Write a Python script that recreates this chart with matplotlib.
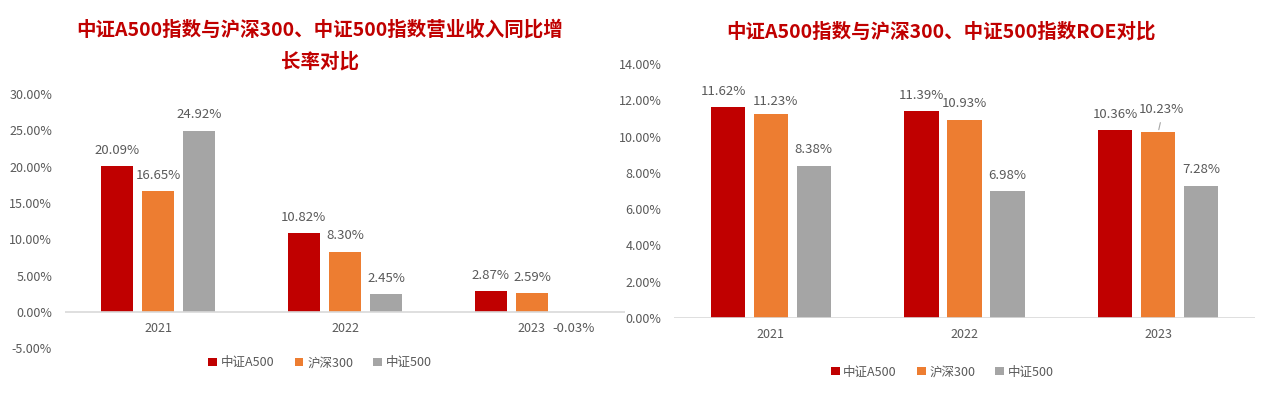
import numpy as np
import matplotlib
matplotlib.use('Agg')
import matplotlib.pyplot as plt

plt.rcParams['font.family'] = ['Noto Sans CJK SC', 'DejaVu Sans']

# Data
years = ['2021', '2022', '2023']
series = ['中证A500', '沪深300', '中证500']
colors = ['#C00000', '#ED7D31', '#A5A5A5']

revenue_a500 = [20.09, 10.82, 2.87]
revenue_hs300 = [16.65, 8.30, 2.59]
revenue_zz500 = [24.92, 2.45, -0.03]

roe_a500 = [11.62, 11.39, 10.36]
roe_hs300 = [11.23, 10.93, 10.23]
roe_zz500 = [8.38, 6.98, 7.28]

title_left = '中证A500指数与沪深300、中证500指数营业收入同比增\n长率对比'
title_right = '中证A500指数与沪深300、中证500指数ROE对比'

text_c = '#595959'
title_c = '#C00000'

fig = plt.figure(figsize=(12.7, 3.97), dpi=100)


def draw(ax, data, yticks, pitch, width):
    x = np.arange(len(years))
    bars = []
    for i, vals in enumerate(data):
        b = ax.bar(x + (i - 1) * pitch, vals, width, color=colors[i], label=series[i], zorder=2)
        bars.append(b)
    ax.set_xlim(-0.5, len(years) - 0.5)
    ax.set_ylim(yticks[0], yticks[-1])
    ax.set_yticks(yticks)
    ax.set_yticklabels(['{:.2f}%'.format(t) for t in yticks])
    ax.set_xticks([])
    # category labels sit just under the zero line
    for xi, yr in zip(x, years):
        ax.annotate(yr, (xi, 0), xytext=(0, -12), textcoords='offset points',
                    ha='center', va='center', fontsize=9, color=text_c)
    for s in ['top', 'right', 'left', 'bottom']:
        ax.spines[s].set_visible(False)
    ax.axhline(0, color='#D9D9D9', lw=1.2, zorder=3)
    ax.tick_params(axis='both', length=0, labelsize=9, colors=text_c)
    ax.tick_params(axis='y', pad=9)
    return bars


def label_bars(ax, bars, data, special=None):
    special = special or {}
    for i, (b, vals) in enumerate(zip(bars, data)):
        for j, rect in enumerate(b):
            v = vals[j]
            cx = rect.get_x() + rect.get_width() / 2
            dx, dy = special.get((i, j), (0, 0))
            if v >= 0:
                ax.annotate('{:.2f}%'.format(v), (cx, v), xytext=(dx, 11.5 + dy),
                            textcoords='offset points', ha='center', va='center',
                            fontsize=9.5, color=text_c)
            else:
                ax.annotate('{:.2f}%'.format(v), (cx, 0), xytext=(dx, -12),
                            textcoords='offset points', ha='center', va='center',
                            fontsize=9.5, color=text_c)


# Left chart
ax1 = fig.add_axes([0.0508, 0.1222, 0.4417, 0.641])
d1 = [revenue_a500, revenue_hs300, revenue_zz500]
b1 = draw(ax1, d1, list(range(-5, 31, 5)), 0.22, 0.174)
label_bars(ax1, b1, d1)
fig.text(0.252, 0.885, title_left, ha='center', va='center', fontsize=14,
         fontweight='bold', color=title_c, linespacing=1.75)
fig.legend(handles=b1, labels=series, loc='center', bbox_to_anchor=(0.252, 0.086),
           ncol=3, frameon=False, fontsize=9, labelcolor=text_c,
           handlelength=0.7, handleheight=0.7, handletextpad=0.3, columnspacing=1.6)

# Right chart
ax2 = fig.add_axes([0.5307, 0.199, 0.4575, 0.6398])
d2 = [roe_a500, roe_hs300, roe_zz500]
b2 = draw(ax2, d2, list(range(0, 15, 2)), 0.222, 0.176)
label_bars(ax2, b2, d2, special={(0, 0): (-3, 0), (1, 0): (3, -2), (1, 2): (2, 5)})
# leader line for raised label
r = b2[1][2]
lx = r.get_x() + r.get_width() / 2
ax2.annotate('', xy=(lx, roe_hs300[2]), xytext=(2, 9), textcoords='offset points',
             arrowprops=dict(arrowstyle='-', color='#A6A6A6', lw=0.8))
fig.text(0.741, 0.92, title_right, ha='center', va='center', fontsize=14,
         fontweight='bold', color=title_c)
fig.legend(handles=b2, labels=series, loc='center', bbox_to_anchor=(0.742, 0.063),
           ncol=3, frameon=False, fontsize=9, labelcolor=text_c,
           handlelength=0.7, handleheight=0.7, handletextpad=0.3, columnspacing=1.6)

fig.savefig('out.png', dpi=100)
